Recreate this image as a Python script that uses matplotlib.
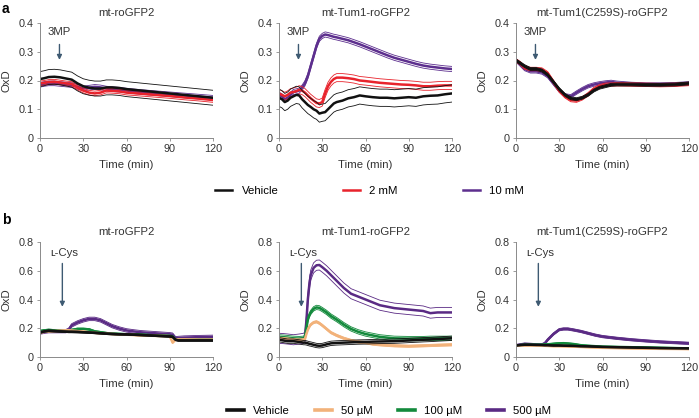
import matplotlib
matplotlib.use("Agg")
import matplotlib.pyplot as plt
import numpy as np
from matplotlib.lines import Line2D

plt.rcParams['font.family'] = ['Liberation Sans', 'DejaVu Sans']
plt.rcParams['font.size'] = 7.8

BLACK = '#111111'
RED = '#e8232c'
PURPLE_A = '#5d2f8e'
ORANGE = '#f2b27a'
GREEN = '#138a3c'
PURPLE_B = '#5a2a84'
ARROW = '#3e5a72'

# ---- panel a: 3MP ----
T_A1 = [0, 3, 6, 10, 14, 18, 22, 26, 30, 34, 38, 42, 46, 50, 55, 60, 70, 80, 90, 100, 110, 120]
A1_VEH = [0.205, 0.208, 0.212, 0.213, 0.211, 0.207, 0.203, 0.19, 0.18, 0.175, 0.172, 0.172, 0.176, 0.176,
          0.174, 0.17, 0.165, 0.16, 0.155, 0.15, 0.145, 0.14]
A1_2MM = [0.19, 0.192, 0.195, 0.196, 0.193, 0.19, 0.188, 0.175, 0.165, 0.158, 0.155, 0.158, 0.165, 0.164,
          0.162, 0.158, 0.154, 0.15, 0.146, 0.141, 0.137, 0.132]
A1_10MM = [0.185, 0.188, 0.19, 0.19, 0.188, 0.186, 0.184, 0.178, 0.172, 0.175, 0.178, 0.176, 0.172, 0.17,
           0.168, 0.165, 0.16, 0.156, 0.152, 0.148, 0.144, 0.14]
A1_SD = [0.026, 0.008, 0.008]

T_A2 = [0, 2, 4, 6, 8, 10, 12, 14, 16, 18, 20, 22, 24, 26, 28, 30, 32, 34, 36, 38, 40, 44, 48, 52, 56, 60,
        65, 70, 75, 80, 85, 90, 95, 100, 105, 110, 115, 120]
A2_VEH = [0.14, 0.135, 0.125, 0.13, 0.14, 0.145, 0.15, 0.148, 0.135, 0.125, 0.115, 0.108, 0.1, 0.095, 0.085,
          0.088, 0.09, 0.1, 0.11, 0.12, 0.125, 0.13, 0.138, 0.142, 0.148, 0.145, 0.142, 0.14, 0.14, 0.138,
          0.14, 0.142, 0.14, 0.145, 0.147, 0.148, 0.152, 0.155]
A2_2MM = [0.155, 0.15, 0.145, 0.15, 0.158, 0.16, 0.163, 0.168, 0.165, 0.158, 0.148, 0.138, 0.13, 0.122, 0.12,
          0.125, 0.155, 0.18, 0.195, 0.205, 0.21, 0.21, 0.208, 0.205, 0.2, 0.198, 0.195, 0.192, 0.19, 0.188,
          0.186, 0.185, 0.183, 0.18, 0.18, 0.182, 0.183, 0.183]
A2_10MM = [0.15, 0.145, 0.135, 0.14, 0.15, 0.16, 0.162, 0.165, 0.175, 0.19, 0.215, 0.25, 0.285, 0.32, 0.345,
           0.355, 0.36, 0.358, 0.355, 0.352, 0.35, 0.345, 0.34, 0.333, 0.326, 0.318, 0.308, 0.298, 0.288,
           0.279, 0.272, 0.265, 0.258, 0.252, 0.248, 0.245, 0.242, 0.24]
A2_SD = [0.03, 0.014, 0.009]

T_A3 = [0, 3, 6, 10, 14, 18, 22, 26, 30, 34, 38, 42, 46, 50, 54, 58, 62, 66, 70, 80, 90, 100, 110, 120]
A3_VEH = [0.27, 0.26, 0.25, 0.24, 0.24, 0.235, 0.22, 0.195, 0.17, 0.15, 0.138, 0.135, 0.14, 0.15, 0.165,
          0.175, 0.18, 0.185, 0.186, 0.186, 0.185, 0.185, 0.186, 0.19]
A3_2MM = [0.27, 0.26, 0.245, 0.24, 0.24, 0.238, 0.225, 0.195, 0.165, 0.145, 0.132, 0.13, 0.138, 0.152, 0.17,
          0.18, 0.185, 0.186, 0.187, 0.186, 0.185, 0.184, 0.185, 0.188]
A3_10MM = [0.27, 0.255, 0.24, 0.232, 0.232, 0.228, 0.215, 0.19, 0.165, 0.148, 0.145, 0.158, 0.17, 0.18,
           0.186, 0.19, 0.193, 0.195, 0.192, 0.188, 0.186, 0.186, 0.187, 0.19]
A3_SD = [0.005, 0.006, 0.006]

# ---- panel b: L-Cys ----
T_B1 = [0, 3, 6, 10, 14, 18, 20, 22, 26, 30, 34, 38, 42, 46, 50, 55, 60, 65, 70, 80, 90, 92, 94, 96, 100, 110, 120]
B1_VEH = [0.17, 0.178, 0.182, 0.18, 0.178, 0.176, 0.175, 0.175, 0.174, 0.172, 0.17, 0.168, 0.165, 0.162, 0.16,
          0.158, 0.157, 0.155, 0.153, 0.148, 0.143, 0.14, 0.12, 0.115, 0.115, 0.115, 0.115]
B1_50 = [0.17, 0.175, 0.178, 0.18, 0.182, 0.185, 0.185, 0.183, 0.18, 0.177, 0.172, 0.168, 0.165, 0.162, 0.16,
         0.157, 0.155, 0.153, 0.15, 0.147, 0.145, 0.1, 0.12, 0.122, 0.122, 0.12, 0.12]
B1_100 = [0.18, 0.185, 0.188, 0.185, 0.182, 0.18, 0.182, 0.188, 0.195, 0.195, 0.192, 0.178, 0.172, 0.166, 0.162,
          0.16, 0.158, 0.157, 0.155, 0.15, 0.146, 0.142, 0.122, 0.122, 0.122, 0.121, 0.12]
B1_500 = [0.17, 0.176, 0.18, 0.18, 0.18, 0.18, 0.19, 0.22, 0.24, 0.255, 0.265, 0.265, 0.255, 0.235, 0.215,
          0.198, 0.185, 0.178, 0.172, 0.165, 0.158, 0.155, 0.13, 0.132, 0.135, 0.138, 0.14]
B1_SD = [0.006, 0.005, 0.006, 0.012]

T_B2 = [0, 3, 6, 10, 14, 17, 18, 19, 20, 21, 22, 24, 26, 28, 30, 33, 36, 40, 45, 50, 55, 60, 65, 70, 80, 90,
        100, 105, 110, 120]
B2_VEH = [0.12, 0.115, 0.11, 0.11, 0.105, 0.1, 0.1, 0.098, 0.095, 0.092, 0.09, 0.085, 0.08, 0.078, 0.08, 0.088,
          0.095, 0.098, 0.1, 0.102, 0.104, 0.105, 0.107, 0.108, 0.11, 0.115, 0.12, 0.122, 0.125, 0.13]
B2_50 = [0.13, 0.128, 0.125, 0.12, 0.118, 0.12, 0.125, 0.16, 0.19, 0.21, 0.225, 0.24, 0.245, 0.235, 0.22, 0.195,
         0.17, 0.15, 0.13, 0.115, 0.105, 0.1, 0.09, 0.085, 0.078, 0.075, 0.078, 0.08, 0.082, 0.085]
B2_100 = [0.14, 0.138, 0.135, 0.13, 0.128, 0.13, 0.14, 0.2, 0.26, 0.29, 0.31, 0.335, 0.345, 0.342, 0.33, 0.31,
          0.285, 0.26, 0.225, 0.195, 0.175, 0.16, 0.15, 0.14, 0.13, 0.128, 0.128, 0.13, 0.13, 0.13]
B2_500 = [0.13, 0.128, 0.125, 0.12, 0.125, 0.13, 0.14, 0.25, 0.4, 0.5, 0.57, 0.62, 0.638, 0.64, 0.625, 0.6,
          0.57, 0.53, 0.48, 0.44, 0.42, 0.4, 0.38, 0.36, 0.34, 0.33, 0.32, 0.305, 0.31, 0.31]
B2_SD = [0.015, 0.008, 0.015, 0.035]

T_B3 = [0, 3, 6, 10, 14, 18, 20, 22, 24, 26, 28, 30, 33, 36, 40, 45, 50, 55, 60, 70, 80, 90, 100, 110, 120]
B3_VEH = [0.08, 0.083, 0.085, 0.085, 0.084, 0.083, 0.082, 0.082, 0.081, 0.08, 0.08, 0.08, 0.079, 0.078, 0.077,
          0.075, 0.074, 0.072, 0.07, 0.068, 0.066, 0.064, 0.062, 0.061, 0.06]
B3_50 = [0.078, 0.08, 0.08, 0.08, 0.08, 0.078, 0.078, 0.077, 0.076, 0.075, 0.075, 0.075, 0.074, 0.073, 0.072,
         0.07, 0.068, 0.066, 0.064, 0.062, 0.06, 0.058, 0.057, 0.056, 0.055]
B3_100 = [0.08, 0.083, 0.085, 0.085, 0.085, 0.085, 0.087, 0.088, 0.09, 0.092, 0.094, 0.095, 0.096, 0.094, 0.09,
          0.082, 0.078, 0.075, 0.072, 0.07, 0.068, 0.066, 0.064, 0.062, 0.06]
B3_500 = [0.08, 0.085, 0.09, 0.088, 0.085, 0.085, 0.095, 0.12, 0.14, 0.16, 0.175, 0.19, 0.195, 0.195, 0.188,
          0.178, 0.165, 0.152, 0.142, 0.13, 0.12, 0.112, 0.105, 0.1, 0.095]
B3_SD = [0.004, 0.004, 0.004, 0.008]

TITLES = ['mt-roGFP2', 'mt-Tum1-roGFP2', 'mt-Tum1(C259S)-roGFP2']
LEGEND_A = ['Vehicle', '2 mM', '10 mM']
LEGEND_B = ['Vehicle', '50 µM', '100 µM', '500 µM']


def draw_series(ax, t, mean, sd, color):
    t = np.array(t)
    mean = np.array(mean)
    ax.plot(t, mean + sd, color=color, lw=0.6)
    ax.plot(t, mean - sd, color=color, lw=0.6)
    ax.plot(t, mean, color=color, lw=1.8)


def style_axes(ax, ymax, ystep, title):
    for s in ['top', 'right']:
        ax.spines[s].set_visible(False)
    for s in ['left', 'bottom']:
        ax.spines[s].set_color('#8a8a8a')
        ax.spines[s].set_linewidth(0.7)
    ax.tick_params(colors='#8a8a8a', labelcolor='#333333', length=2.5, width=0.6, pad=2, labelsize=7.8)
    ax.set_xlim(0, 120)
    ax.set_ylim(0, ymax)
    ax.set_xticks([0, 30, 60, 90, 120])
    yt = np.arange(0, ymax + 1e-9, ystep)
    ax.set_yticks(yt)
    ax.set_yticklabels(['0' if v == 0 else f'{v:.1f}' for v in yt])
    ax.set_xlabel('Time (min)', fontsize=8.2, labelpad=4, color='#333333')
    ax.set_ylabel('OxD', fontsize=8.2, color='#333333')
    ax.yaxis.set_label_coords(-0.165, 0.5)
    ax.set_title(title, fontsize=8.2, pad=5, color='#333333')


fig = plt.figure(figsize=(6.99, 4.18), dpi=100)
lefts = [40 / 699, 279 / 699, 516 / 699]
w = 173 / 699
h = 115 / 418

panels_a = [
    (T_A1, [A1_10MM, A1_2MM, A1_VEH], A1_SD[::-1]),
    (T_A2, [A2_10MM, A2_2MM, A2_VEH], A2_SD[::-1]),
    (T_A3, [A3_10MM, A3_2MM, A3_VEH], A3_SD[::-1]),
]
colors_a = [PURPLE_A, RED, BLACK]
for i, (t, series, sds) in enumerate(panels_a):
    ax = fig.add_axes([lefts[i], 1 - 138 / 418, w, h])
    for m, sd, c in zip(series, sds, colors_a):
        draw_series(ax, t, m, sd, c)
    style_axes(ax, 0.4, 0.1, TITLES[i])
    ax.annotate('', xy=(13.5, 0.262), xytext=(13.5, 0.335),
                arrowprops=dict(arrowstyle='-|>', color=ARROW, lw=1.0, mutation_scale=7))
    ax.text(13.5, 0.35, '3MP', ha='center', va='bottom', fontsize=8.2, color='#333333')

panels_b = [
    (T_B1, [B1_500, B1_100, B1_50, B1_VEH], B1_SD[::-1]),
    (T_B2, [B2_500, B2_100, B2_50, B2_VEH], B2_SD[::-1]),
    (T_B3, [B3_500, B3_100, B3_50, B3_VEH], B3_SD[::-1]),
]
colors_b = [PURPLE_B, GREEN, ORANGE, BLACK]
for i, (t, series, sds) in enumerate(panels_b):
    ax = fig.add_axes([lefts[i], 1 - 357 / 418, w, h])
    for m, sd, c in zip(series, sds, colors_b):
        draw_series(ax, t, m, sd, c)
    style_axes(ax, 0.8, 0.2, TITLES[i])
    ax.annotate('', xy=(15.5, 0.33), xytext=(15.5, 0.67),
                arrowprops=dict(arrowstyle='-|>', color=ARROW, lw=1.0, mutation_scale=7))
    ax.text(16.5, 0.69, 'ʟ-Cys', ha='center', va='bottom', fontsize=8.2, color='#333333')

fig.text(0.003, 0.995, 'a', fontsize=10, fontweight='bold', va='top')
fig.text(0.003, 1 - 213 / 418, 'b', fontsize=10, fontweight='bold', va='top')

handles_a = [Line2D([], [], color=c, lw=1.8) for c in [BLACK, RED, PURPLE_A]]
fig.legend(handles_a, LEGEND_A, loc='center', bbox_to_anchor=(0.5286, 1 - 191 / 418), ncol=3,
           frameon=False, fontsize=8.2, handlelength=1.5, columnspacing=5.7, handletextpad=0.8)
handles_b = [Line2D([], [], color=c, lw=2.6) for c in [BLACK, ORANGE, GREEN, PURPLE_B]]
fig.legend(handles_b, LEGEND_B, loc='center', bbox_to_anchor=(0.5565, 1 - 411 / 418), ncol=4,
           frameon=False, fontsize=8.2, handlelength=1.5, columnspacing=2.2, handletextpad=0.8)

fig.savefig('out.png', dpi=100)
